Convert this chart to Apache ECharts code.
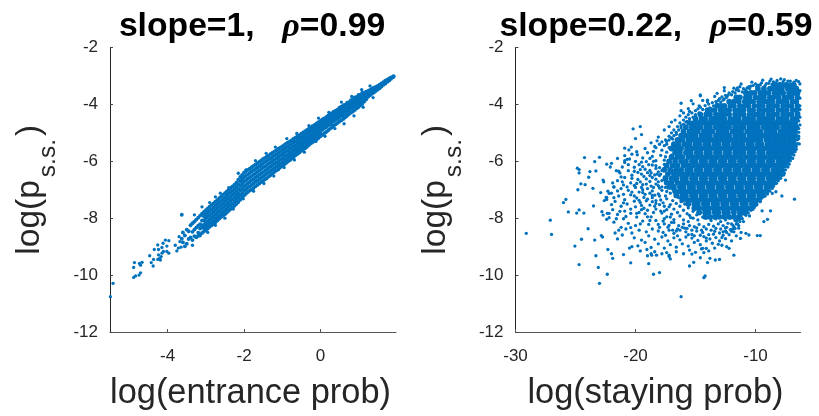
<!DOCTYPE html>
<html><head><meta charset="utf-8">
<style>html,body{margin:0;padding:0;background:#fff}#c{width:819px;height:416px}</style>
<script src="https://cdn.jsdelivr.net/npm/echarts@6/dist/echarts.min.js"></script></head>
<body><div id="c"></div>
<script>
// Values; the densest regions are summarised by hand-placed marks.
// Left panel band: [x*100, [-y*100 ...]]
const entranceRows = [
[192,[301]],[190,[303,305]],[185,[305,310]],[180,[309,316]],[175,[313,321]],[170,[317,327]],[165,[322,331]],[160,[326,337]],[155,[331,343]],[150,[335,341,348]],[145,[339,347,353]],
[140,[341,349,358]],[135,[345,353,363]],[130,[349,358,368]],[125,[353,362,373]],[120,[355,365,373,382]],[115,[359,369,378,390]],[110,[358,368,377,388,398]],[105,[366,375,385,394,403]],
[100,[367,378,386,397,409]],[95,[374,383,393,402,414]],[90,[376,385,396,407,420]],[85,[383,394,401,413,425]],[80,[385,396,405,414,429]],[75,[392,400,411,421,434]],[70,[394,405,413,426,440]],
[65,[401,409,420,431,445]],[60,[403,414,424,433,442,451]],[55,[408,418,429,439,456]],[50,[412,424,433,445,460]],[45,[419,428,438,451,465]],[40,[422,431,443,454,470]],[35,[426,437,448,459,476]],
[30,[431,441,452,463,472,481]],[25,[435,447,456,470,486]],[20,[440,451,462,474,492]],[15,[445,455,468,480,497]],[10,[449,460,471,484,501]],[5,[453,466,476,489,507]],[0,[458,468,480,491,502,512]],
[-5,[463,474,486,497,509,518]],[-10,[467,478,491,503,512,523]],[-15,[472,484,495,509,519,528]],[-20,[476,489,501,513,522,532]],[-25,[481,493,506,518,528,537]],[-30,[485,497,510,521,533,543]],
[-35,[490,503,515,527,538,549]],[-40,[494,507,519,532,543,554]],[-45,[499,512,524,538,548,558]],[-50,[503,516,529,541,552,563]],[-55,[508,521,534,547,558,569]],[-60,[512,525,539,551,563,574]],
[-65,[517,530,543,556,568,579]],[-70,[521,534,547,561,572,585]],[-75,[526,539,553,566,578,590]],[-80,[530,543,556,570,583,596]],[-85,[534,548,562,575,588,601]],[-90,[538,552,565,580,594,606]],
[-95,[543,557,571,585,598,611]],[-100,[548,561,575,589,603,616]],[-105,[552,566,580,594,608,621]],[-110,[556,570,584,599,613,628]],[-115,[561,575,589,604,618,632]],[-120,[565,579,594,608,623,637]],
[-125,[570,584,599,613,628,642]],[-130,[574,589,603,618,633,648]],[-135,[579,593,608,623,638,653]],[-140,[583,598,613,628,643,659]],[-145,[588,602,618,633,648,663]],[-150,[592,607,622,638,653,668]],
[-155,[597,612,627,643,658,673]],[-160,[602,617,632,647,662,678]],[-165,[607,622,637,653,668,683]],[-170,[612,627,642,657,672,688]],[-175,[616,631,647,663,678,694]],[-180,[621,636,652,667,683,699]],
[-185,[626,641,657,673,688,703]],[-190,[630,646,661,677,692,708]],[-195,[635,651,667,683,698,714]],[-200,[640,656,672,688,704,720]],[-205,[648,664,680,696,712,728]],[-210,[655,671,687,703,719,735]],
[-215,[665,681,697,713,728,743]],[-220,[675,690,705,720,735,750]],[-225,[682,697,712,727,742,756]],[-230,[688,703,718,733,748,762]],[-235,[694,709,724,739,754,768]],[-240,[700,715,730,745,760,774]],
[-245,[706,721,736,751,766,780]],[-250,[712,727,742,757,772,786]],[-255,[718,733,748,763,778,791]],[-260,[724,739,754,769,784,796]],[-265,[730,745,760,775,790,802]],[-270,[736,751,766,781,796,808]],
[-275,[742,757,772,787,802,814]],[-280,[748,763,778,793,808,820]],[-285,[754,769,784,799,813,825]],[-290,[760,775,790,805,818,830]],[-295,[766,781,796,811,824,836]],[-300,[772,787,802,817,830,842]],
[-305,[778,793,808,823,835,847]],[-310,[784,808,829,852]],[-315,[791,821,836,857]],[-320,[798,826,851,862]],[-325,[805,833,867]],[-330,[812,840,863]],
[-335,[818,848,877]],[-340,[825,868]],[-345,[846,873]],[-350,[840,890]],[-355,[861,899]],[-360,[850,885]],[-363,[788,872]]
];
// Outlying points of the left panel, [x, y]
const entranceOutliers = [[-5.5,-10.76],[-5.43,-10.29],[-4.89,-10.08],[-4.84,-10.03],[-4.75,-10],[-4.71,-9.92],[-4.89,-9.73],[-4.87,-9.56],[-4.74,-9.59],[-4.67,-9.55],[-4.71,-9.65],[-4.47,-9.32],[-4.43,-9.56],[-4.38,-9.68],[-4.37,-9.45],[-4.35,-9.1],[-4.26,-8.94],[-4.24,-9.1],[-4.15,-9.03],[-4.12,-8.88],[-4.06,-8.77],[-4.02,-8.98],[-3.97,-8.79],[-4.26,-9.45],[-4.21,-9.41],[-4.17,-9.35],[-4.24,-9.29],[-4.15,-9.23],[-4.11,-9.17],[-4.02,-9.17],[-3.97,-9.23],[-4.19,-9.47],[-3.8,-8.95],[-3.72,-9.05],[-3.76,-9.15],[-3.68,-8.82],[-3.65,-9.02],[-3.7,-8.65],
[-3.3,-7.88],[-3.1,-7.6],[-2.9,-7.45],[-2.75,-7.25],[-2.62,-7.12],[-2.4,-6.93],[-2.15,-6.42],[-1.95,-6.3],[-1.7,-5.98],[-1.42,-5.72],[-1.18,-5.5],[-0.88,-5.2],[-0.62,-5.02],[-0.3,-4.75],[-0.05,-4.48],[0.22,-4.28],[0.55,-3.92],[0.82,-3.72],[1.08,-3.48],[1.3,-3.35],
[-3.35,-8.95],[-3.15,-8.62],[-2.95,-8.5],[-2.75,-8.25],[-2.5,-8],[-2.28,-7.68],[-2.02,-7.32],[-1.75,-7.05],[-1.48,-6.78],[-1.22,-6.52],[-0.95,-6.22],[-0.68,-5.95],[-0.42,-5.68],[-0.12,-5.3],[0.12,-5.12],[0.38,-4.85],[0.62,-4.68],[0.88,-4.4],[1.12,-4.1],[1.38,-3.76]];
// Right panel solid core: [-y*100, [-x*10 ...]]
const stayingCore = [
[332,[68,71,75,79,83,85]],
[345,[66,70,73,78,81,85,88,93,98]],
[360,[65,68,72,77,80,84,89,92,96,101,104,108]],
[375,[65,70,73,76,81,85,88,93,96,100,105,108,113,116]],
[390,[66,69,74,78,81,86,90,93,97,102,105,109,114,118,122]],
[405,[65,70,73,77,82,85,89,94,97,101,106,109,113,118,121,126,129,132]],
[420,[66,69,74,78,81,86,90,93,97,102,105,110,114,117,122,125,129,134,137,140]],
[435,[65,70,73,77,82,85,89,94,98,101,105,110,113,117,122,126,129,133,138,141,146]],
[450,[66,69,74,78,81,86,90,93,97,102,106,109,114,117,121,126,130,134,137,142,145,150]],
[465,[67,71,75,79,83,87,91,95,99,103,107,111,115,119,123,127,131,135,139,143,147,151,155]],
[480,[66,70,73,77,82,85,89,93,98,101,105,110,113,117,122,126,129,133,138,141,146,150,153,158]],
[495,[67,71,75,79,84,87,91,96,99,103,107,112,115,119,124,127,131,136,139,143,148,151,155,160]],
[510,[67,70,74,78,82,86,90,94,98,102,105,110,114,117,122,126,130,133,138,142,145,150,154,158,162]],
[525,[68,72,76,80,84,88,91,96,100,104,108,112,116,120,124,128,132,136,140,144,148,152,156,161,165]],
[540,[68,71,75,79,83,87,90,95,98,103,106,111,115,118,123,126,131,134,139,142,147,150,155,159,164,168]],
[555,[69,73,77,81,85,89,93,97,101,105,109,113,117,121,125,129,133,137,141,145,149,153,157,162,166,170]],
[570,[70,74,78,82,86,89,94,97,102,105,110,114,117,122,125,130,133,138,141,146,149,154,158,163,167]],
[585,[72,76,80,84,88,92,96,100,104,108,112,116,120,124,128,132,136,140,144,148,152,156,161,165,170]],
[600,[74,78,81,86,89,94,97,102,105,110,113,118,121,126,129,134,137,142,145,150,153,158,162,167,172]],
[615,[76,80,84,88,92,96,100,104,108,112,116,120,124,128,132,136,140,144,148,152,156,160,165,169,174]],
[630,[78,82,85,90,93,98,101,106,109,114,117,122,125,130,133,138,141,146,149,154,157,162,166,171,176]],
[645,[80,84,88,92,96,100,104,108,112,116,120,124,128,132,136,140,144,148,152,156,160,164,168,173]],
[660,[82,86,89,94,97,102,105,110,113,118,121,126,129,134,137,142,145,150,153,158,161,166,170,175]],
[675,[85,89,93,97,101,105,109,113,117,121,125,129,133,137,141,145,149,153,157,161,165,170,174]],
[690,[88,91,96,99,104,107,112,115,120,123,128,131,136,139,144,147,152,155,160,163,168,172]],
[705,[91,95,99,103,107,111,115,119,123,127,131,135,139,143,147,151,155,159,163,167]],
[720,[94,97,102,105,110,113,118,121,126,129,134,137,142,145,150,153,158,161,166]],
[735,[97,101,105,109,113,117,121,125,129,133,137,141,145,149,153,157,161]],
[750,[100,103,108,111,116,119,124,127,132,135,140,143,148,151,156]],
[765,[103,107,111,115,119,123,127,131,135,139,143,147,151]],
[780,[109,113,118,123,126,131,134,139,142,147]],
[795,[114,118,122,126,130,134,138,142]]
];
// Right panel loose points around the core: [-x*10, -y*100]
const stayingLoose = [
[172,552],[178,561],[184,548],[190,570],[186,583],[179,579],[194,588],[199,566],[203,575],[191,601],[197,612],[183,598],[176,596],[205,592],[209,604],[186,613],[180,622],[192,628],[201,621],[206,633],[213,641],[198,639],[187,641],[181,637],[176,611],[193,653],[203,649],[209,657],[215,668],[198,664],[186,657],[180,650],[172,628],[188,671],[194,682],[204,676],[210,683],[218,690],[200,692],[183,680],[178,668],[190,696],[197,708],[206,702],[212,696],[220,712],[214,722],[204,718],[186,704],[180,694],[192,716],[199,729],[209,735],[217,741],[224,727],[207,750],[196,745],[186,728],[181,715],[191,739],[200,760],[212,758],[219,770],[209,775],[188,754],[183,738],[195,770],[204,783],[215,787],[222,798],[192,784],[183,768],[199,796],[210,802],[218,814],[206,818],[187,795],[178,782],[194,810],[200,826],[212,832],[189,822],[183,808],[174,795],
[176,625],[171,640],[176,655],[173,672],[178,690],[174,706],[175,722],[177,746],[172,760],[176,775],[170,786],[168,805],[177,810],[172,825],
[185,565],[188,590],[195,603],[200,600],[206,612],[211,620],[216,633],[183,625],[190,640],[196,629],[203,660],[211,672],[219,676],[184,648],[191,662],[199,678],[207,690],[215,704],[223,705],[187,687],[194,700],[203,708],[210,716],[218,728],[184,719],[193,727],[201,740],[210,746],[220,752],[226,738],[186,742],[195,755],[204,768],[213,776],[222,783],[184,758],[190,772],[199,783],[208,794],[216,802],[188,808],[196,820],[204,833],[214,842],[181,822],
[174,568],[170,578],[168,590],[175,584],[171,602],[167,612],[174,618],[169,632],[178,632],[173,646],[168,650],[179,645],[171,660],[167,668],[176,664],[181,672],[170,682],[175,692],[169,698],[181,686],[178,702],[171,712],[166,718],[180,722],[174,732],[169,738],[164,728],[179,736],[171,752],[166,748],[162,742],[176,758],[168,768],[163,758],[159,750],[180,752],[174,770],[165,780],[160,772],[156,764],[179,775],[171,796],[163,792],[157,784],[152,776],[148,768],[176,802],[168,815],[160,806],[154,798],[149,788],[146,780],
[185,600],[189,612],[183,615],[194,619],[188,632],[182,645],[195,645],[201,635],[188,650],[183,663],[196,672],[191,680],[185,692],[201,685],[195,692],[188,712],[194,710],[201,722],[186,720],[190,733],[197,737],[183,748],[193,765],[185,780],[197,780],[190,795],
// upper edge
[73,318],[76,313],[79,310],[82,316],[85,321],[88,318],[91,327],[95,324],[98,332],[100,328],[104,336],[107,342],[110,345],[113,338],[116,349],[119,355],[122,360],[118,343],[125,368],[128,374],[126,381],[130,380],[133,390],[136,394],[131,386],[139,399],[142,404],[146,410],[140,385],[150,422],[153,430],[148,416],[156,436],[158,445],[160,455],[155,425],[163,465],[165,478],[158,462],[168,490],[170,500],[162,482],[172,512],[175,525],[166,505],[178,532],[180,540],[169,522],[183,552],[174,540],[126,352],[134,372],[144,386],[152,398],[156,415],[163,440],[170,462],[176,490],[181,515],[187,535],[192,555],[146,370],[162,422],[172,478],[182,528],[112,328],[103,322],[94,315],[87,311],[140,392],[147,405],[160,430],[167,455],
[68,322],[71,318],[74,326],[77,320],[80,326],[83,324],[86,330],[89,326],[92,334],[96,331],[99,338],[102,334],[105,344],[108,350],[111,356],[114,352],[117,360],[120,366],[115,342],[124,375],[127,385],[123,368],[132,398],[135,405],[129,392],[138,412],[141,420],[144,418],[147,430],[150,436],[152,445],[155,450],[157,460],[160,470],[162,475],[164,490],[166,498],[168,510],[170,518],[172,525],[174,530],[176,545],
// right edge
[64,320],[63,328],[66,316],[62,340],[63,352],[62,365],[63,378],[62,392],[63,405],[63,418],[64,430],[63,445],[64,458],[63,472],[64,485],[64,498],[64,512],[65,524],[65,538],[66,548],[66,558],[67,566],[68,578],[69,590],[71,598],[72,610],[73,620],[75,630],[76,642],[78,650],[79,660],[81,668],[83,678],[85,688],[86,695],[88,705],[90,715],[92,722],[95,730],[96,742],[99,752],[101,762],[104,772],[106,782],[108,790],[111,802],[113,812],[116,820],[118,830],[72,598],[74,615],[77,636],[82,662],[86,680],[90,700],[94,715],[98,735],[102,755],[105,765],[110,785],[115,805],[120,820],[124,832],
[70,588],[74,604],[76,618],[79,642],[84,672],[87,690],[92,708],[95,722],[100,744],[103,758],[107,775],[112,792],[116,810],[105,792],[110,812],[114,826],[119,838],
// lower edge
[125,845],[130,852],[134,846],[139,858],[144,850],[149,845],[153,857],[158,848],[163,842],[168,853],[172,842],[177,850],[181,845],[186,838],[191,848],[197,842],[203,852],[208,838],[127,860],[133,868],[138,873],[143,865],[148,878],[153,870],[158,866],[163,876],[168,869],[173,880],[178,866],[184,874],[189,862],[195,877],[201,869],[122,858],[118,848],[114,835],[125,872],[130,880],[136,888],[141,880],[146,893],[151,885],[156,898],[161,890],[166,902],[171,893],[176,905],[181,890],[187,903],[192,885],[198,897],[128,895],[134,905],[139,915],[145,908],[150,920],[155,912],[160,925],[166,918],[172,930],[178,925],[184,918],[190,932],[196,915],
[120,880],[116,862],[112,850],[124,900],[131,892],
[113,802],[117,808],[121,800],[125,806],[129,812],[133,802],[137,808],[141,800],[144,796],[148,806],[152,800],[156,812],[160,820],[164,826],[155,790],[115,820],[119,824],[123,818],[127,826],[131,820],[135,828],[139,822],[143,830],[147,822],[151,830],[155,826],[159,835],[117,836],[121,840],[125,834],[129,838],[133,836],[137,842],[141,838],[145,842],[149,834],[153,842],[157,836],[161,832],[165,838],[169,842],[173,832],[176,820],[180,832],[127,848],[135,856],[146,860],[156,858],[128,868],[141,870],[151,862],[165,862],[175,860],[124,850],[120,846],[166,845],[170,815]
];
// Scattered outliers of the right panel, [x, y]
const stayingOutliers = [[-29.1,-8.53],[-27.1,-8.07],[-27,-8.57],[-26,-7.45],[-25.8,-7.34],[-25.6,-7.78],[-25.05,-8.98],[-24.9,-7.82],[-24.7,-7.71],[-24.3,-7.82],[-24.7,-9.63],[-24.5,-8.74],[-24.8,-7],[-24.55,-6.79],[-24.2,-6.82],[-24.85,-6.24],[-24.7,-6.29],[-24.7,-6.41],[-24.25,-5.87],[-23.8,-6.36],[-23.9,-6.56],[-23.55,-6.95],[-23.4,-6.01],[-23,-5.86],[-23.3,-6.34],[-23.5,-7.57],[-23.95,-8.37],[-23.4,-8.77],[-23.3,-9.32],[-23.1,-9.73],[-23,-10.29],[-22.35,-9.97],[-22.85,-8.61],[-22.75,-8.66],[-22.3,-9.1],[-22,-9.25],[-21.9,-9.41],[-21,-9.28],[-20.4,-9.57],[-20.5,-9.05],[-20.3,-9],[-21.7,-8.52],[-21.5,-8.73],[-21.1,-8.59],[-22.9,-7.1],[-22.45,-7.27],[-22.4,-7.34],[-22.2,-7.13],[-22.7,-6.66],[-22.65,-6.72],[-22.4,-6.1],[-22,-6.07],[-22.1,-6.2],[-22.8,-7.77],[-22.7,-7.89],[-22.4,-8.04],[-22.35,-7.83],[-20.2,-4.86],[-19.6,-4.78],[-19.5,-5.06],[-20,-5.2],[-20.9,-5.54],[-20.55,-5.6],[-20.35,-5.5],[-19.85,-5.77],[-20.9,-5.8],[-20.7,-5.93],[-20.9,-5.98],[-18.9,-9.6],[-18.5,-9.97],[-18,-9.91],[-18.7,-9.25],[-18.65,-9.3],[-18.25,-9.3],[-19.05,-9.1],[-16.2,-10.76],[-15.5,-9.68],[-15.15,-9.55],[-14.3,-10.09],[-14.2,-10.03],[-14,-9.56],[-14.6,-9.39],[-13.8,-9.41],[-13.35,-9.47],[-13,-9.45],[-17.1,-9.43],[-17.2,-9.35],[-17.4,-9.21],[-15.3,-9.26],[-14.3,-9.21],[-14.1,-9.06],[-14.4,-9.06],[-11.8,-9.3],[-12.2,-9.06],[-11.25,-8.71],[-9.85,-8.61],[-9.6,-8.61],[-9.3,-8.12],[-9,-8.04],[-6.75,-7.33],[-7.8,-7.22],[-8.3,-7.07],[-8.6,-7.13],[-8.75,-7.74],[-9.45,-7.74],[-10.8,-8.53],[-10.55,-8.59],[-6.4,-5.2],[-6.35,-5.39],[-7.65,-6.48],[-7.5,-6.66],[-8.25,-6.77],[-12.6,-3.41],[-13.2,-3.61],[-14.6,-3.67],[-16.2,-3.96],[-15.35,-3.87],[-10.55,-3.38],[-21.5,-5.9],[-21.2,-6.55],[-21.8,-6.9],[-21.4,-6.35]];
const xTicksL=[-4,-2,0], xTicksR=[-30,-20,-10], yTicks=[-2,-4,-6,-8,-10,-12];
const bandPts=[]; entranceRows.forEach(r=>r[1].forEach(v=>bandPts.push([r[0]/100,-v/100])));
const corePts=[]; stayingCore.forEach(r=>r[1].forEach(v=>corePts.push([-v/10,-r[0]/100])));
const loosePts=stayingOutliers.concat(stayingLoose.map(p=>[-p[0]/10,-p[1]/100]));
const DARK='#262626', FONT='"Liberation Sans",Arial,sans-serif';
function xAxis(i,min,max,ticks,name){return {gridIndex:i,type:'value',min,max,
 name,nameLocation:'middle',nameGap:45,nameTextStyle:{color:DARK,fontSize:34.4,fontFamily:FONT,padding:[0,5,0,0]},
 axisLine:{show:true,onZero:false,lineStyle:{color:'#555',width:1}},
 axisTick:{show:true,inside:true,length:3,customValues:ticks,lineStyle:{color:'#555',width:1}},
 axisLabel:{color:DARK,fontSize:17,fontFamily:FONT,margin:16,customValues:ticks,showMinLabel:true,showMaxLabel:true},
 splitLine:{show:false}};}
function yAxis(i){return {gridIndex:i,type:'value',min:-12,max:-2,
 name:'{m|log(p}{s|s.s.}{m|)}',nameLocation:'middle',nameGap:49,nameRotate:90,
 nameTextStyle:{rich:{m:{color:DARK,fontSize:33.5,fontFamily:FONT,lineHeight:62},s:{color:DARK,fontSize:24.5,fontFamily:FONT,lineHeight:30,verticalAlign:'bottom',padding:[0,3,0,3]}}},
 axisLine:{show:true,onZero:false,lineStyle:{color:DARK,width:1}},
 axisTick:{show:true,inside:true,length:3,customValues:yTicks,lineStyle:{color:'#444',width:1}},
 axisLabel:{color:DARK,fontSize:17,fontFamily:FONT,margin:12,customValues:yTicks},
 splitLine:{show:false}};}
function ser(i,data,size){return {type:'scatter',xAxisIndex:i,yAxisIndex:i,data,symbol:'circle',symbolSize:size,silent:true,animation:false,large:false,itemStyle:{color:'#0072BD',opacity:1}};}
function titleOpt(text,cx){return {text,left:cx,top:5,textAlign:'center',textStyle:{rich:{
 b:{fontSize:33.7,fontWeight:'bold',color:'#000',fontFamily:FONT},
 r:{fontSize:34,fontWeight:'bold',fontStyle:'italic',color:'#000',fontFamily:'"Liberation Serif",serif',padding:[0,0,0,9]}}}};}
const chart=echarts.init(document.getElementById('c'),null,{renderer:'canvas'});
chart.setOption({animation:false,backgroundColor:'#fff',
 title:[titleOpt('{b|slope=1,  }{r|ρ}{b|=0.99}',247),titleOpt('{b|slope=0.22,  }{r|ρ}{b|=0.59}',651)],
 grid:[{left:110,top:47.5,width:286,height:284.5},{left:515.5,top:47.5,width:285,height:284.5}],
 xAxis:[xAxis(0,-5.51,1.98,xTicksL,'log(entrance prob)'),xAxis(1,-30,-6.25,xTicksR,'log(staying prob)')],
 yAxis:[yAxis(0),yAxis(1)],
 series:[ser(0,bandPts,3.9),ser(0,entranceOutliers,3.3),ser(1,corePts,5.8),ser(1,loosePts,3.3)]});
</script></body></html>
